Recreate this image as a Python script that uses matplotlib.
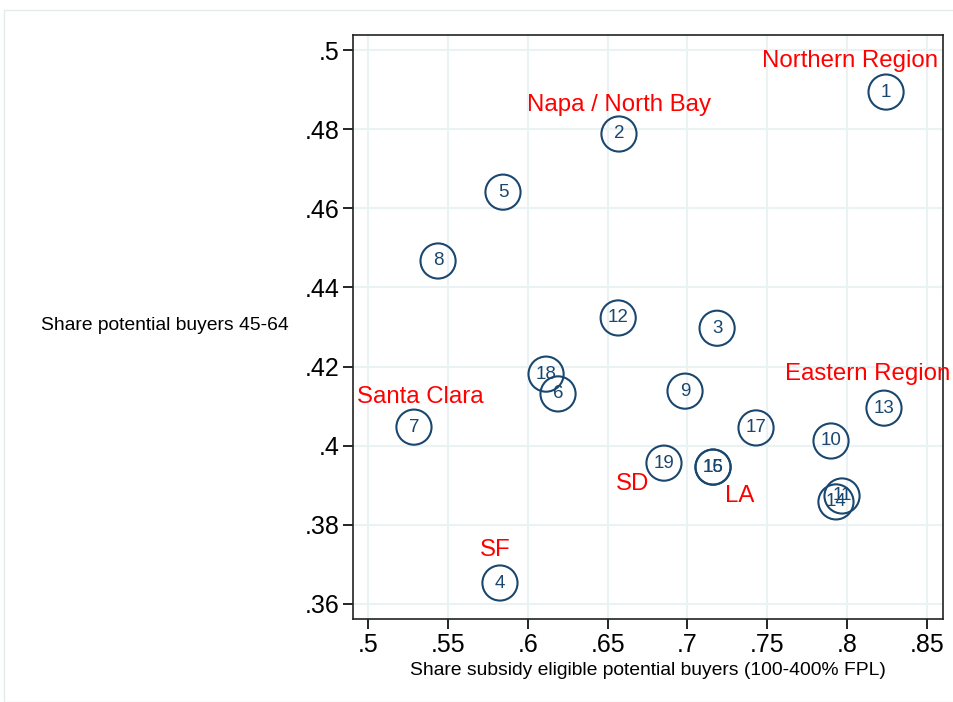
import matplotlib
matplotlib.use("Agg")
from matplotlib import pyplot as plt
from matplotlib.patches import Rectangle

plt.rcParams['font.family'] = ['Liberation Sans', 'DejaVu Sans']

# region data
region_id = [1, 2, 3, 4, 5, 6, 7, 8, 9, 10, 11, 12, 13, 14, 15, 16, 17, 18, 19]
subsidy_share = [.8245, .6571, .7186, .5825, .5844, .6189, .5286, .5437, .6985, .7900,
                 .7969, .6566, .8232, .7931, .7161, .7160, .7430, .6114, .6853]
age_share = [.4894, .4788, .4297, .3653, .4641, .4131, .4047, .4467, .4138, .4012,
             .3873, .4323, .4095, .3858, .3946, .3946, .4045, .4181, .3956]

# named regions: (id, label, offset in pixels)
named = [(1, "Northern Region", (-36, 31)),
         (2, "Napa / North Bay", (0, 29)),
         (13, "Eastern Region", (-16, 34)),
         (7, "Santa Clara", (6, 30)),
         (19, "SD", (-31, -21)),
         (16, "LA", (27, -29)),
         (4, "SF", (-5, 33))]

x_ticks = [.5, .55, .6, .65, .7, .75, .8, .85]
y_ticks = [.36, .38, .40, .42, .44, .46, .48, .50]

navy = "#1a476f"

fig = plt.figure(figsize=(9.54, 7.02), dpi=100)
ax = fig.add_axes([353.5 / 954, 1 - 619 / 702, (942.7 - 353.5) / 954, (619 - 34.7) / 702])

# outer graph region border
fig.patches.append(Rectangle((4 / 954, 0), 1.0, 1 - 10 / 702, transform=fig.transFigure,
                             fill=False, edgecolor="#e3ecec", linewidth=1.0))

ax.scatter(subsidy_share, age_share, s=640, facecolors="none", edgecolors=navy,
           linewidths=1.5, zorder=3)
for i, x, y in zip(region_id, subsidy_share, age_share):
    ax.text(x, y, str(i), ha="center", va="center", fontsize=13.5, color=navy, zorder=4)

for rid, lab, off in named:
    k = region_id.index(rid)
    ax.annotate(lab, (subsidy_share[k], age_share[k]), xytext=off, textcoords="offset pixels",
                ha="center", va="center", fontsize=17.3, color="red", zorder=5)

ax.set_xlim(.4907, .86)
ax.set_ylim(.3562, .5039)
ax.set_xticks(x_ticks)
ax.set_yticks(y_ticks)
fmt = lambda v: ("%g" % v).lstrip("0")
ax.set_xticklabels([fmt(v) for v in x_ticks], fontsize=18)
ax.set_yticklabels([fmt(v) for v in y_ticks], fontsize=18)
ax.tick_params(direction="out", length=7, width=1.2, pad=3)
ax.grid(True, color="#eaf2f3", linewidth=1.5, zorder=0)
ax.set_axisbelow(True)
for sp in ax.spines.values():
    sp.set_linewidth(1.2)
    sp.set_color("#222222")

ax.set_xlabel("Share subsidy eligible potential buyers (100-400% FPL)", fontsize=13.9, labelpad=4)
fig.text(165 / 954, 1 - 326 / 702, "Share potential buyers 45-64", ha="center", va="center",
         fontsize=13.9)

fig.savefig("out.png", dpi=100)
